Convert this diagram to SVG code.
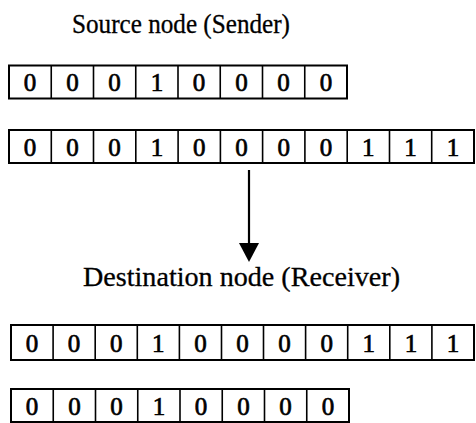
<svg xmlns="http://www.w3.org/2000/svg" width="476" height="423" viewBox="0 0 476 423">
<style>
.t{font-family:"Liberation Serif","Times New Roman",serif;font-size:27px;fill:#000;stroke:#000;stroke-width:0.3}
.d{font-family:"Liberation Serif","Times New Roman",serif;font-size:25px;fill:#000;text-anchor:middle;stroke:#000;stroke-width:0.7}
.b{fill:#fff;stroke:#000;stroke-width:2}
.l{stroke:#000;stroke-width:1.6}
</style>
<rect width="476" height="423" fill="#fff"/>
<g id="source-label"><text class="t" x="72" y="33" textLength="218" lengthAdjust="spacingAndGlyphs">Source node (Sender)</text></g>
<g id="sender-data">
<rect class="b" x="9" y="65.5" width="338" height="33"/>
<path class="l" d="M51.25 65.5V98.5M93.5 65.5V98.5M135.75 65.5V98.5M178 65.5V98.5M220.25 65.5V98.5M262.5 65.5V98.5M304.75 65.5V98.5"/>
<text class="d" y="91"><tspan x="30.1">0</tspan><tspan x="72.4">0</tspan><tspan x="114.6">0</tspan><tspan x="156.9">1</tspan><tspan x="199.1">0</tspan><tspan x="241.4">0</tspan><tspan x="283.6">0</tspan><tspan x="325.9">0</tspan></text>
</g>
<g id="sender-codeword">
<rect class="b" x="9" y="130" width="465" height="33"/>
<path class="l" d="M51.3 130V163M93.5 130V163M135.8 130V163M178.1 130V163M220.4 130V163M262.6 130V163M304.9 130V163M347.2 130V163M389.5 130V163M431.7 130V163"/>
<text class="d" y="155.5"><tspan x="30.1">0</tspan><tspan x="72.4">0</tspan><tspan x="114.6">0</tspan><tspan x="156.9">1</tspan><tspan x="199.2">0</tspan><tspan x="241.5">0</tspan><tspan x="283.8">0</tspan><tspan x="326">0</tspan><tspan x="368.3">1</tspan><tspan x="410.6">1</tspan><tspan x="452.9">1</tspan></text>
</g>
<g id="connectors">
<line x1="249" y1="170" x2="249" y2="245" stroke="#000" stroke-width="2.2"/>
<polygon points="239,243 259,243 249,262" fill="#000"/>
</g>
<g id="destination-label"><text class="t" x="83" y="286" textLength="317" lengthAdjust="spacingAndGlyphs">Destination node (Receiver)</text></g>
<g id="receiver-codeword">
<rect class="b" x="11" y="325" width="463" height="35"/>
<path class="l" d="M53.1 325V360M95.2 325V360M137.3 325V360M179.4 325V360M221.5 325V360M263.5 325V360M305.6 325V360M347.7 325V360M389.8 325V360M431.9 325V360"/>
<text class="d" y="352"><tspan x="32">0</tspan><tspan x="74.1">0</tspan><tspan x="116.2">0</tspan><tspan x="158.3">1</tspan><tspan x="200.4">0</tspan><tspan x="242.5">0</tspan><tspan x="284.6">0</tspan><tspan x="326.7">0</tspan><tspan x="368.8">1</tspan><tspan x="410.9">1</tspan><tspan x="453">1</tspan></text>
</g>
<g id="receiver-data">
<rect class="b" x="11" y="389" width="338" height="33"/>
<path class="l" d="M53.25 389V422M95.5 389V422M137.75 389V422M180 389V422M222.25 389V422M264.5 389V422M306.75 389V422"/>
<text class="d" y="415"><tspan x="32.1">0</tspan><tspan x="74.4">0</tspan><tspan x="116.6">0</tspan><tspan x="158.9">1</tspan><tspan x="201.1">0</tspan><tspan x="243.4">0</tspan><tspan x="285.6">0</tspan><tspan x="327.9">0</tspan></text>
</g>
</svg>
